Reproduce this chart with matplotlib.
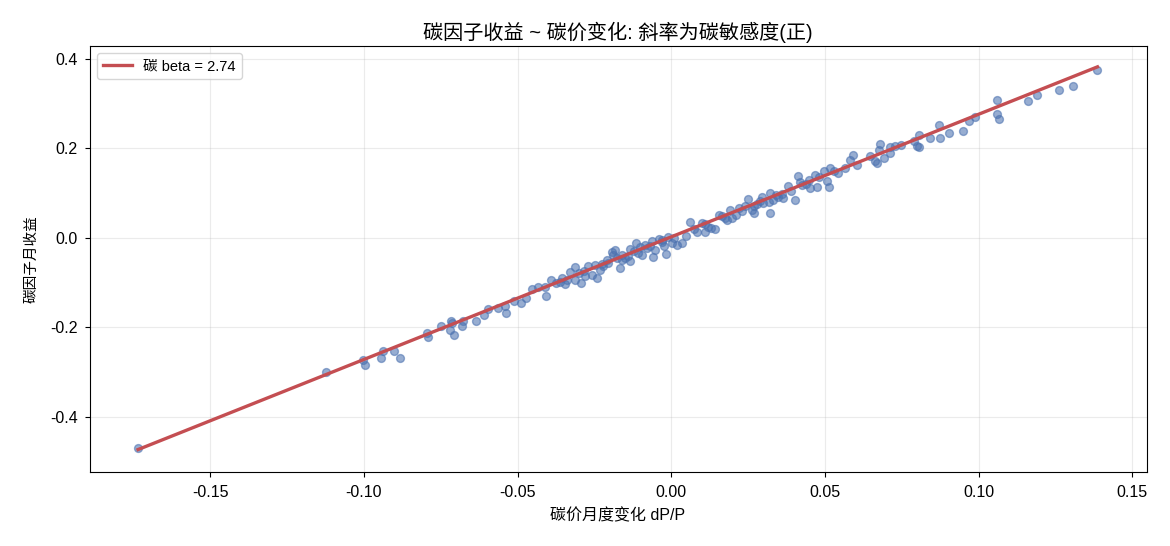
import numpy as np
import matplotlib
matplotlib.use("Agg")
import matplotlib.pyplot as plt

plt.rcParams['font.family'] = ['Liberation Sans', 'Noto Sans CJK SC', 'DejaVu Sans']
plt.rcParams['axes.unicode_minus'] = False

dp = [-0.1735, -0.1122,
      -0.1003, -0.0997, -0.0943, -0.0937, -0.0902, -0.0883, -0.0796, -0.0791, -0.0748,
      -0.0715, -0.0713, -0.0720, -0.0706, -0.0682, -0.0677,
      -0.0634, -0.0609, -0.0595, -0.0563, -0.0541, -0.0539, -0.0511, -0.0489, -0.0474,
      -0.0452, -0.0435,
      -0.0406, -0.0411, -0.0392, -0.0362, -0.0346, -0.0330, -0.0313, -0.0313, -0.0294,
      -0.0270, -0.0259, -0.0248, -0.0243, -0.0232, -0.0221, -0.0205, -0.0192, -0.0183,
      -0.0188, -0.0167, -0.0161, -0.0161, -0.0134, -0.0134, -0.0115, -0.0107, -0.0096,
      -0.0085, -0.0064, -0.0058, -0.0053, -0.0040, -0.0025, -0.0018, -0.0011, 0.0002,
      0.0018, 0.0034,
      -0.0280, -0.0300, -0.0355, -0.0210, -0.0150, -0.0120, -0.0080, -0.0030,
      0.0047, 0.0110,
      0.0061, 0.0083, 0.0099, 0.0121, 0.0143, 0.0154, 0.0164, 0.0192, 0.0197, 0.0219,
      0.0240, 0.0251, 0.0262, 0.0268, 0.0289, 0.0295, 0.0319, 0.0322, 0.0322, 0.0349,
      0.0365, 0.0379, 0.0403, 0.0412, 0.0425, 0.0447, 0.0452, 0.0468, 0.0474, 0.0496,
      0.0507, 0.0512, 0.0517, 0.0542, 0.0566, 0.0582, 0.0590, 0.0604,
      0.0110, 0.0130, 0.0180, 0.0210, 0.0270, 0.0300, 0.0330, 0.0360, 0.0390, 0.0440,
      -0.0375, -0.0340, -0.0285, -0.0225, -0.0175, -0.0140, -0.0100, -0.0070, -0.0030,
      0.0010, 0.0075, 0.0175, 0.0230, 0.0280, 0.0340, 0.0420, 0.0480, 0.0530,
      0.0648, 0.0664, 0.0670, 0.0675, 0.0680, 0.0694, 0.0713, 0.0713, 0.0729, 0.0749,
      0.0789, 0.0800, 0.0805, 0.0805, 0.0843, 0.0872, 0.0876, 0.0905, 0.0949, 0.0970,
      0.0990, 0.1060, 0.1060, 0.1068, 0.1161, 0.1190, 0.1263, 0.1308, 0.1387]

ret = [-0.471, -0.301,
       -0.274, -0.284, -0.269, -0.254, -0.252, -0.269, -0.213, -0.221, -0.198,
       -0.185, -0.191, -0.206, -0.217, -0.197, -0.187,
       -0.185, -0.172, -0.159, -0.157, -0.152, -0.168, -0.142, -0.146, -0.135,
       -0.115, -0.109,
       -0.130, -0.109, -0.095, -0.098, -0.103, -0.077, -0.066, -0.094, -0.100,
       -0.064, -0.083, -0.060, -0.090, -0.072, -0.064, -0.057, -0.031, -0.027,
       -0.038, -0.068, -0.049, -0.038, -0.051, -0.025, -0.012, -0.033, -0.038,
       -0.016, -0.008, -0.042, -0.027, -0.003, -0.019, -0.036, 0.002, -0.012,
       -0.016, -0.012,
       -0.085, -0.078, -0.090, -0.050, -0.045, -0.030, -0.022, -0.010,
       0.005, 0.012,
       0.036, 0.014, 0.034, 0.025, 0.019, 0.051, 0.049, 0.061, 0.044, 0.066,
       0.072, 0.086, 0.063, 0.055, 0.083, 0.092, 0.079, 0.055, 0.100, 0.092,
       0.089, 0.116, 0.085, 0.139, 0.118, 0.130, 0.111, 0.141, 0.113, 0.150,
       0.126, 0.113, 0.156, 0.145, 0.156, 0.173, 0.185, 0.163,
       0.030, 0.022, 0.040, 0.050, 0.070, 0.078, 0.085, 0.098, 0.105, 0.120,
       -0.100, -0.095, -0.075, -0.058, -0.045, -0.040, -0.020, -0.018, -0.005,
       0.000, 0.020, 0.045, 0.060, 0.075, 0.095, 0.125, 0.135, 0.150,
       0.182, 0.172, 0.167, 0.197, 0.209, 0.179, 0.189, 0.202, 0.206, 0.207,
       0.217, 0.206, 0.229, 0.202, 0.223, 0.253, 0.223, 0.234, 0.239, 0.261,
       0.270, 0.308, 0.276, 0.265, 0.306, 0.319, 0.331, 0.340, 0.375]

beta = 2.74
intercept = 0.002

x = np.array(dp)
y = np.array(ret)

fig, ax = plt.subplots(figsize=(11.7, 5.46), dpi=100)
fig.subplots_adjust(left=0.0765, right=0.98, top=0.916, bottom=0.136)

ax.scatter(x, y, s=32, color='#4C72B0', alpha=0.58, linewidths=1, zorder=2)
xl = np.array([x.min(), x.max()])
ax.plot(xl, intercept + beta * xl, color='#C44E52', lw=2.4, zorder=3,
        label=f'碳 beta = {beta:.2f}')

ax.set_title('碳因子收益 ~ 碳价变化: 斜率为碳敏感度(正)', fontsize=14.5, pad=5)
ax.set_xlabel('碳价月度变化 dP/P', fontsize=11.5, labelpad=6)
ax.set_ylabel('碳因子月收益', fontsize=10.5, labelpad=8)
ax.set_xlim(-0.1893, 0.1547)
ax.set_ylim(-0.523, 0.429)
ax.set_yticks([-0.4, -0.2, 0.0, 0.2, 0.4])
ax.set_xticks([-0.15, -0.10, -0.05, 0.00, 0.05, 0.10, 0.15])
ax.set_xticklabels(['-0.15', '-0.10', '-0.05', '0.00', '0.05', '0.10', '0.15'])
ax.set_yticklabels(['-0.4', '-0.2', '0.0', '0.2', '0.4'])
ax.tick_params(labelsize=11.5)
ax.tick_params(axis='x', pad=6)
ax.tick_params(axis='y', pad=5)
ax.grid(True, alpha=0.25)
ax.legend(loc='upper left', fontsize=10.5)

fig.savefig('out.png', dpi=100)
